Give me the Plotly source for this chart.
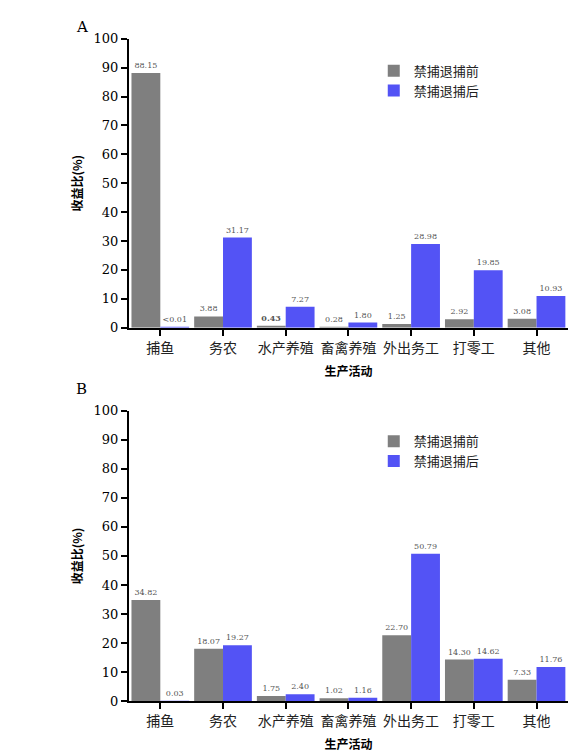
import plotly.graph_objects as go

cats = ["捕鱼", "务农", "水产养殖", "畜禽养殖", "外出务工", "打零工", "其他"]
a_before = [88.15, 3.88, 0.43, 0.28, 1.25, 2.92, 3.08]
a_after = [0.01, 31.17, 7.27, 1.80, 28.98, 19.85, 10.93]
a_before_lbl = ["88.15", "3.88", "<b>0.43</b>", "0.28", "1.25", "2.92", "3.08"]
a_after_lbl = ["<0.01", "31.17", "7.27", "1.80", "28.98", "19.85", "10.93"]
b_before = [34.82, 18.07, 1.75, 1.02, 22.70, 14.30, 7.33]
b_after = [0.03, 19.27, 2.40, 1.16, 50.79, 14.62, 11.76]
s_before = "禁捕退捕前"
s_after = "禁捕退捕后"
GRAY = "#7f7f7f"
BLUE = "#5353f5"
CJK = "Noto Sans CJK SC"
lblfont = dict(family="DejaVu Serif", size=8, color="#555")

fig = go.Figure()
def add(y, lbl, name, color, xa, ya, legend, show):
    fig.add_trace(go.Bar(x=cats, y=y, text=lbl, textposition="outside", cliponaxis=False,
                         textfont=lblfont, name=name, marker=dict(color=color, line=dict(width=0)),
                         xaxis=xa, yaxis=ya, legend=legend, showlegend=show))

add(a_before, a_before_lbl, s_before, GRAY, "x", "y", "legend", True)
add(a_after, a_after_lbl, s_after, BLUE, "x", "y", "legend", True)
add(b_before, [f"{v:.2f}" for v in b_before], s_before, GRAY, "x2", "y2", "legend2", True)
add(b_after, [f"{v:.2f}" for v in b_after], s_after, BLUE, "x2", "y2", "legend2", True)

xcommon = dict(showline=True, linecolor="black", linewidth=2, ticks="outside", ticklen=6,
               tickwidth=2, tickcolor="black", tickfont=dict(family=CJK, size=14, color="#222"))
ycommon = dict(range=[0, 100], dtick=10, showline=True, linecolor="black", linewidth=2,
               ticks="outside", ticklen=6, tickwidth=2, tickcolor="black", showgrid=False,
               zeroline=False, tickfont=dict(family="DejaVu Serif", size=13, color="black"),
               title=dict(text="<b>收益比(%)</b>", font=dict(family=CJK, size=12, color="black"), standoff=8))
xt = dict(text="<b>生产活动</b>", font=dict(family=CJK, size=12, color="black"), standoff=12)
fig.update_layout(
    width=576, height=756, margin=dict(l=0, r=0, t=0, b=0),
    plot_bgcolor="white", paper_bgcolor="white",
    barmode="group", bargap=0.08, bargroupgap=0,
    xaxis=dict(domain=[0.21, 0.972], anchor="y", title=xt, **xcommon),
    yaxis=dict(domain=[0.578, 0.968], anchor="x", **ycommon),
    xaxis2=dict(domain=[0.21, 0.972], anchor="y2", title=xt, **xcommon),
    yaxis2=dict(domain=[0.074, 0.466], anchor="x2", **ycommon),
    legend=dict(x=0.635, y=0.945, xanchor="left", yanchor="top", font=dict(family=CJK, size=13, color="#222"),
                tracegroupgap=8, itemwidth=30, bgcolor="rgba(0,0,0,0)"),
    legend2=dict(x=0.635, y=0.445, xanchor="left", yanchor="top", font=dict(family=CJK, size=13, color="#222"),
                 tracegroupgap=8, itemwidth=30, bgcolor="rgba(0,0,0,0)"),
    annotations=[
        dict(text="A", x=0.115, y=0.998, xref="paper", yref="paper", showarrow=False,
             font=dict(family="DejaVu Serif", size=15, color="black")),
        dict(text="B", x=0.115, y=0.495, xref="paper", yref="paper", showarrow=False,
             font=dict(family="DejaVu Serif", size=15, color="black")),
    ],
)
fig.write_html("out.html")
